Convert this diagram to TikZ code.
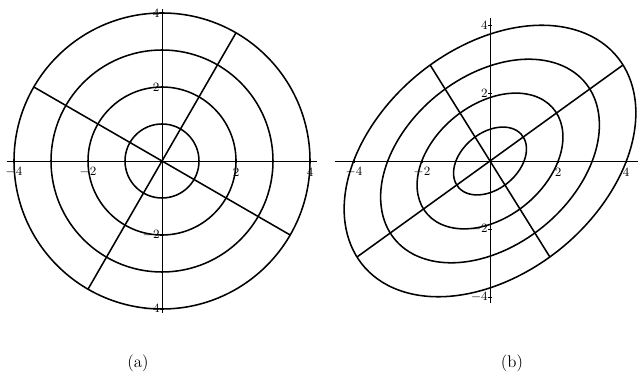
\documentclass[tikz,border=0pt]{standalone}
\usepackage{tikz}
\begin{document}
\begin{tikzpicture}[
  curva/.style={line width=1.1pt},
  asse/.style={line width=0.6pt},
  etic/.style={font=\small, inner sep=0pt},
  didasc/.style={font=\large}
]

% Riquadro
\useasboundingbox (0,0) rectangle (15.975,9.325);

% Trasformazione lineare per (b)
\def\ta{0.870}
\def\tb{-0.258}
\def\tc{0.627}
\def\td{0.964}

% (a) Cerchi
\begin{scope}[shift={(4.05,5.3)}, scale=0.925]
\foreach \r in {1,2,3,4}
  \draw[curva] (0,0) circle (\r);
\draw[curva] (60:4) -- (240:4);
\draw[curva] (150:4) -- (330:4);
% Assi
\draw[asse] (-4.2,0) -- (4.2,0);
\draw[asse] (0,-4.1) -- (0,4.1);
\foreach \t in {-4,-2,2,4} {
  \draw[asse] (\t,-0.06) -- (\t,0.06);
  \draw[asse] (-0.06,\t) -- (0.06,\t);
  \node[etic] (xa\t) at (\t,-0.3) {$\t$};
  \node[etic, anchor=east] (ya\t) at (-0.06,\t) {$\t$};
}
\end{scope}

% (b) Ellissi
\begin{scope}[shift={(12.25,5.3)}, scale=0.85]
\begin{scope}[cm={\ta,\tb,\tc,\td,(0,0)}]
\foreach \r in {1,2,3,4}
  \draw[curva] (0,0) circle (\r);
\draw[curva] (60:4) -- (240:4);
\draw[curva] (150:4) -- (330:4);
\end{scope}
% Assi
\draw[asse] (-4.56,0) -- (4.35,0);
\draw[asse] (0,-4.18) -- (0,4.2);
\foreach \t in {-4,-2,2,4} {
  \draw[asse] (\t,-0.06) -- (\t,0.06);
  \draw[asse] (-0.06,\t) -- (0.06,\t);
  \node[etic] (xb\t) at (\t,-0.33) {$\t$};
  \node[etic, anchor=east] (yb\t) at (-0.06,\t) {$\t$};
}
\end{scope}

% Didascalie
\node[didasc] (capa) at (3.45,0.24) {(a)};
\node[didasc] (capb) at (12.8,0.24) {(b)};

\end{tikzpicture}
\end{document}
